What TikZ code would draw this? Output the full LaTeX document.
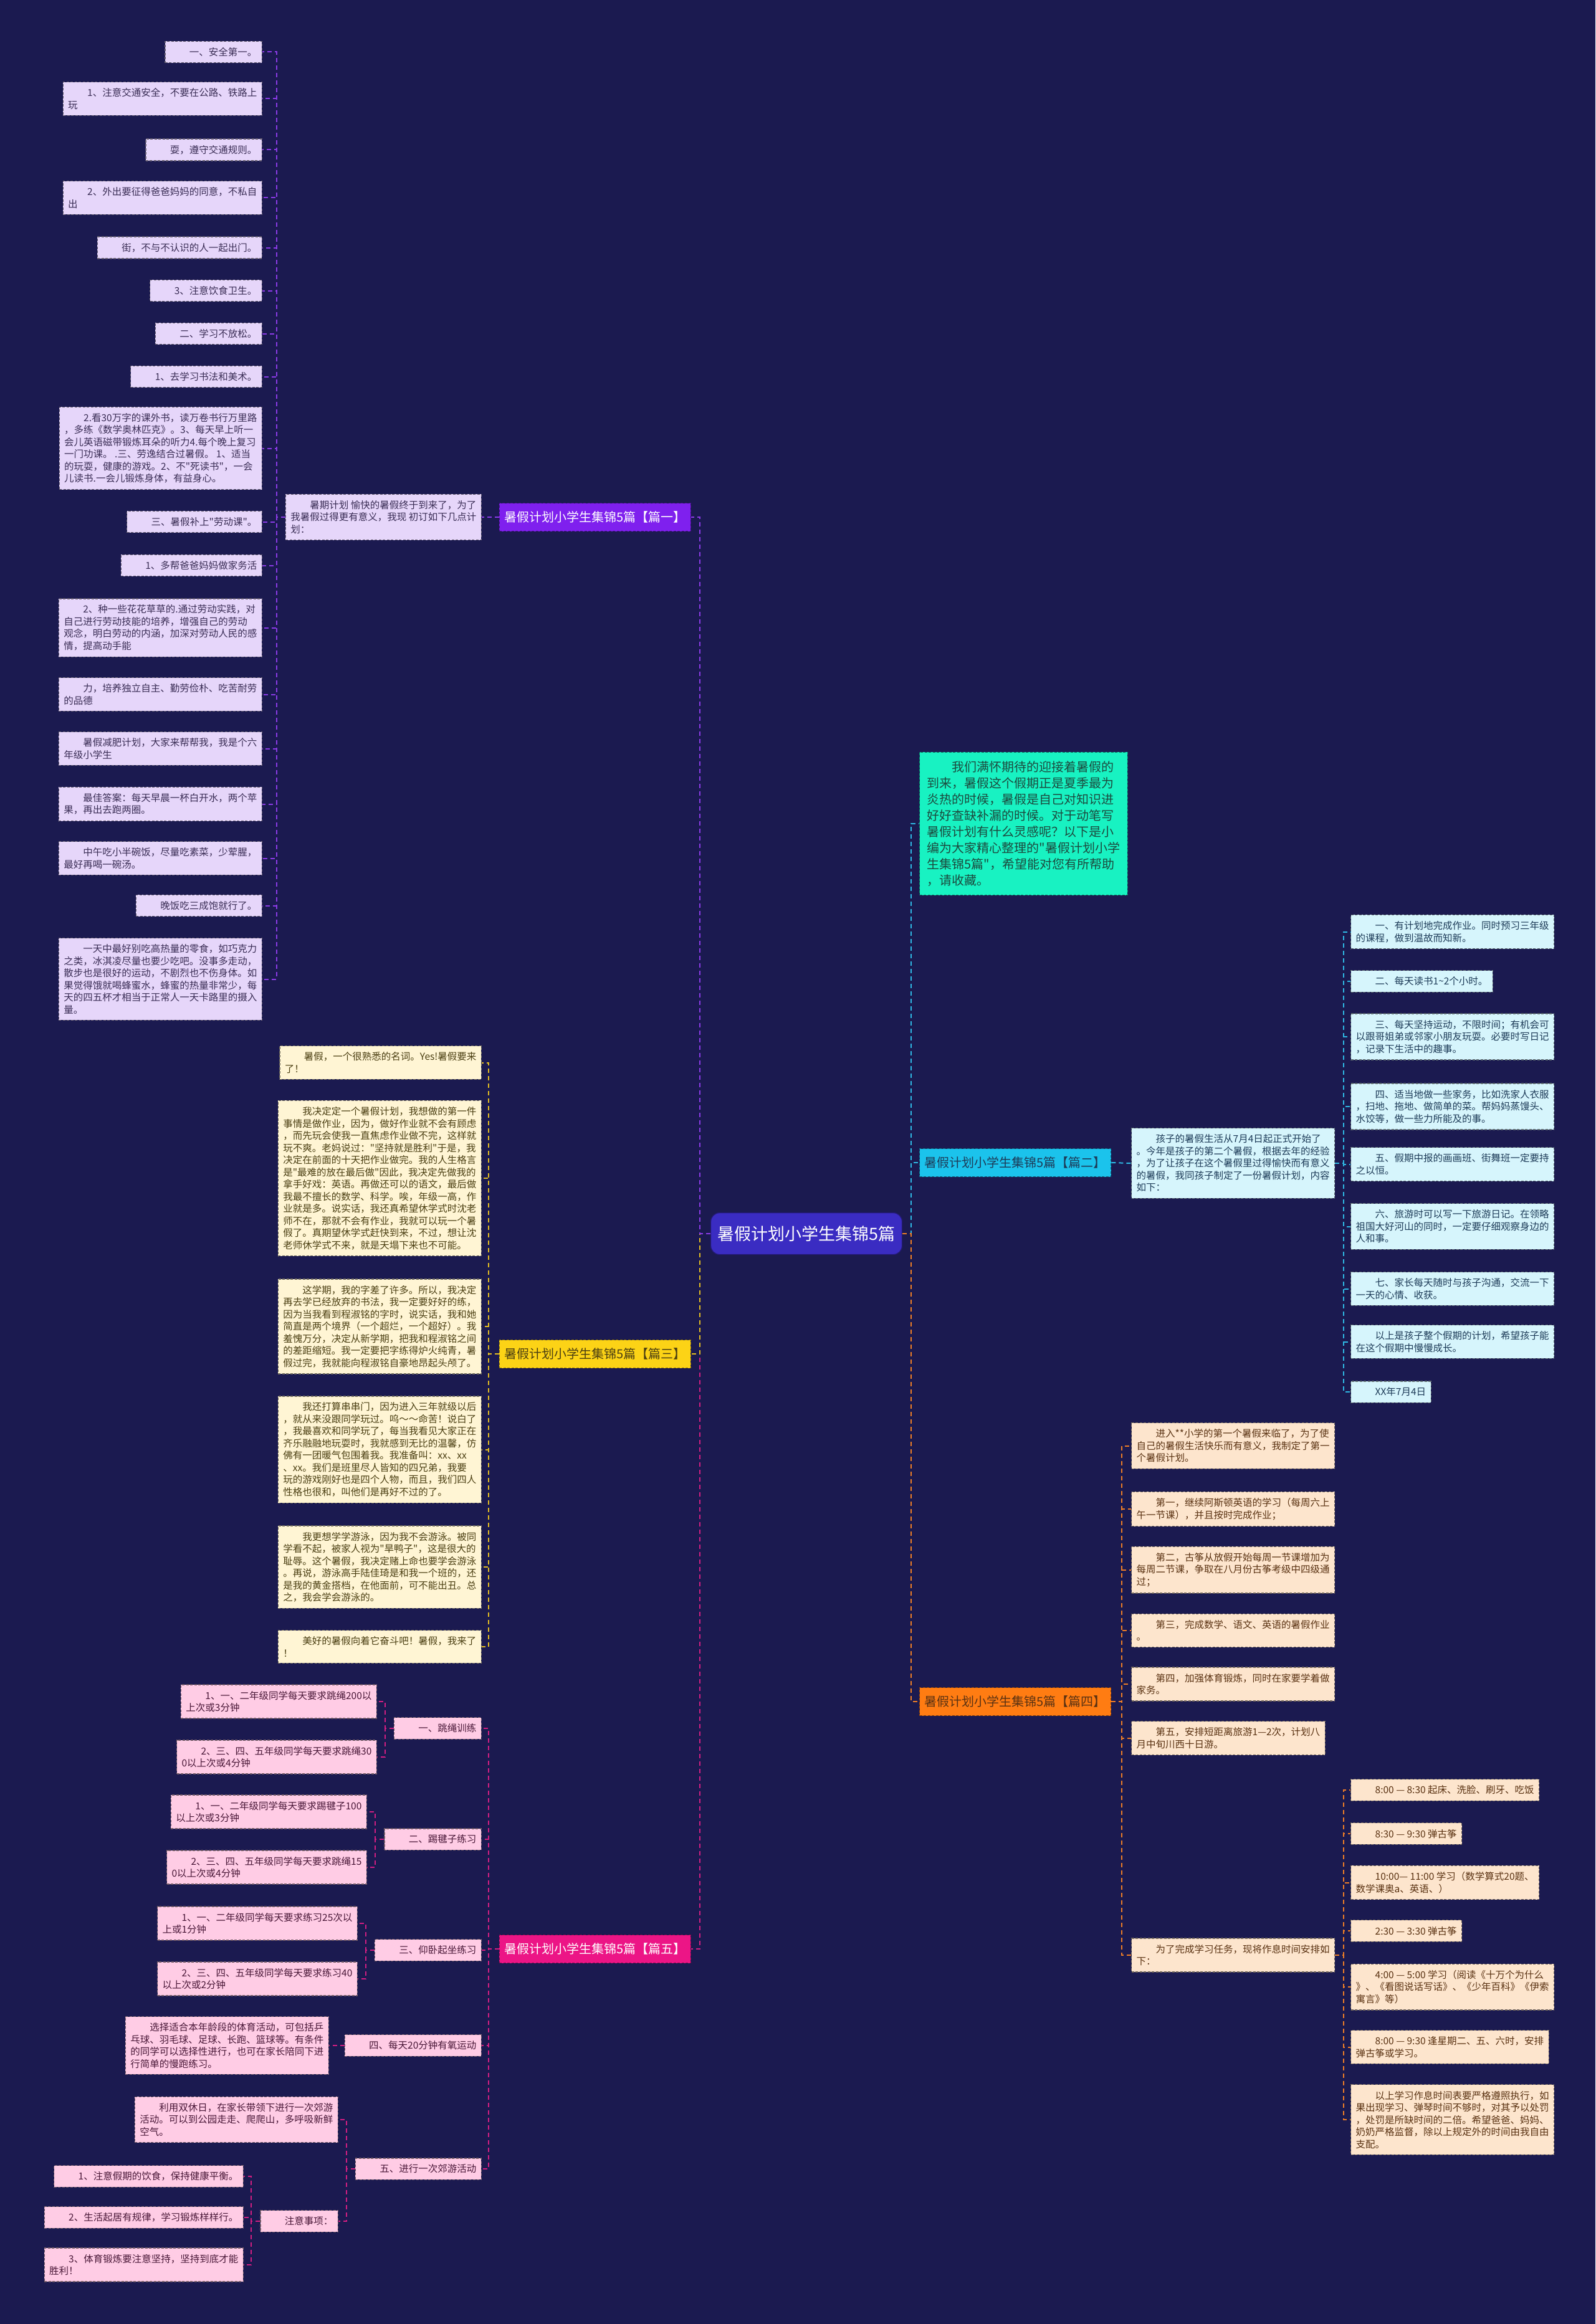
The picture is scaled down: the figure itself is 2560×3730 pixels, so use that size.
\documentclass[tikz,border=0pt]{standalone}
\usepackage{fontspec}
\setmainfont{Noto Sans CJK SC}[Ligatures=TeXOff]
\usetikzlibrary{positioning}
\definecolor{bgnavy}{HTML}{1B1A50}
\definecolor{hubblue}{HTML}{3A2CC2}
\definecolor{violetmain}{HTML}{7F20EE}
\definecolor{violetleaf}{HTML}{E6D6FA}
\definecolor{violetline}{HTML}{8B3BE6}
\definecolor{violetink}{HTML}{3A2D55}
\definecolor{cyanmain}{HTML}{1BC3EC}
\definecolor{cyanleaf}{HTML}{D6F5FC}
\definecolor{cyanline}{HTML}{2FB9E4}
\definecolor{cyanink}{HTML}{1D3B58}
\definecolor{aquaintro}{HTML}{18F2C2}
\definecolor{aquaink}{HTML}{1C4A3E}
\definecolor{yellowmain}{HTML}{FCD316}
\definecolor{yellowleaf}{HTML}{FFF5D4}
\definecolor{yellowline}{HTML}{E2BC22}
\definecolor{yellowink}{HTML}{4B3F12}
\definecolor{orangemain}{HTML}{FF7C12}
\definecolor{orangeleaf}{HTML}{FDE5CD}
\definecolor{orangeline}{HTML}{EE7E26}
\definecolor{orangeink}{HTML}{5A3212}
\definecolor{pinkmain}{HTML}{EC1586}
\definecolor{pinkleaf}{HTML}{FFCCE5}
\definecolor{pinkline}{HTML}{D21E82}
\definecolor{pinkink}{HTML}{4A1838}
\newcommand{\firstind}{\hspace*{2em}}
\tikzset{
  leaf/.style={rectangle,fill=#1,draw=#1!45!black,dash pattern=on 4pt off 2.5pt,
    line width=1.3pt,align=left,inner xsep=8pt,inner ysep=10pt,
    font=\fontsize{15.5}{19.5}\selectfont},
  branch/.style={rectangle,fill=#1,draw=#1!55!black,dash pattern=on 4pt off 2.5pt,
    line width=1.3pt,inner xsep=8pt,minimum height=45pt,
    font=\fontsize{20}{24}\selectfont},
  hub/.style={rectangle,rounded corners=14pt,fill=hubblue,draw=hubblue!60!black,
    line width=1.3pt,text=white,inner xsep=11pt,minimum height=67pt,
    font=\fontsize{27}{32}\selectfont},
  intro/.style={rectangle,fill=aquaintro,draw=aquaintro!50!black,dash pattern=on 4pt off 2.5pt,
    line width=1.3pt,text=aquaink,align=left,inner xsep=12pt,inner ysep=14pt,
    font=\fontsize{20}{26}\selectfont},
  link/.style={draw=#1,line width=2pt,dash pattern=on 7pt off 5pt},
  p1leaf/.style={leaf=violetleaf,text=violetink,anchor=east},
  p2leaf/.style={leaf=cyanleaf,text=cyanink,anchor=west},
  p3leaf/.style={leaf=yellowleaf,text=yellowink,anchor=east},
  p4leaf/.style={leaf=orangeleaf,text=orangeink,anchor=west},
  p5leaf/.style={leaf=pinkleaf,text=pinkink,anchor=east},
}
\begin{document}
\begin{tikzpicture}[x=1pt,y=-1pt]
  \fill[bgnavy] (0,0) rectangle (2560,3730);
  \useasboundingbox (0,0) rectangle (2560,3730);

  % centre
  \node[hub] (hub) at (1294,1980) {暑假计划小学生集锦5篇};

  % branches
  \node[branch=violetmain,text=white,anchor=east] (p1) at (1109,830) {暑假计划小学生集锦5篇【篇一】};
  \node[branch=cyanmain,text=cyanink,anchor=west] (p2) at (1475,1866) {暑假计划小学生集锦5篇【篇二】};
  \node[branch=yellowmain,text=yellowink,anchor=east] (p3) at (1109,2173) {暑假计划小学生集锦5篇【篇三】};
  \node[branch=orangemain,text=orangeink,anchor=west] (p4) at (1475,2731) {暑假计划小学生集锦5篇【篇四】};
  \node[branch=pinkmain,text=white,anchor=east] (p5) at (1109,3128) {暑假计划小学生集锦5篇【篇五】};

  \node[intro,anchor=west] (intro) at (1475,1322) {\firstind 我们满怀期待的迎接着暑假的\\到来，暑假这个假期正是夏季最为\\炎热的时候，暑假是自己对知识进\\好好查缺补漏的时候。对于动笔写\\暑假计划有什么灵感呢？以下是小\\编为大家精心整理的"暑假计划小学\\生集锦5篇"，希望能对您有所帮助\\，请收藏。};

  % 篇一
  \node[p1leaf] (p1i) at (773,830) {\firstind 暑期计划 愉快的暑假终于到来了，为了\\我暑假过得更有意义，我现 初订如下几点计\\划：};
  \node[p1leaf] (p1l1) at (421,83.5) {\firstind 一、安全第一。};
  \node[p1leaf] (p1l2) at (421,158.5) {\firstind 1、注意交通安全，不要在公路、铁路上\\玩};
  \node[p1leaf] (p1l3) at (421,240.5) {\firstind 耍，遵守交通规则。};
  \node[p1leaf] (p1l4) at (421,317.5) {\firstind 2、外出要征得爸爸妈妈的同意，不私自\\出};
  \node[p1leaf] (p1l5) at (421,397.5) {\firstind 街，不与不认识的人一起出门。};
  \node[p1leaf] (p1l6) at (421,466.5) {\firstind 3、注意饮食卫生。};
  \node[p1leaf] (p1l7) at (421,535.5) {\firstind 二、学习不放松。};
  \node[p1leaf] (p1l8) at (421,604.5) {\firstind 1、去学习书法和美术。};
  \node[p1leaf] (p1l9) at (421,719.5) {\firstind 2.看30万字的课外书，读万卷书行万里路\\，多练《数学奥林匹克》。3、每天早上听一\\会儿英语磁带锻炼耳朵的听力4.每个晚上复习\\一门功课。 .三、劳逸结合过暑假。 1、适当\\的玩耍，健康的游戏。2、不"死读书"，一会\\儿读书.一会儿锻炼身体，有益身心。};
  \node[p1leaf] (p1l10) at (421,837.5) {\firstind 三、暑假补上"劳动课"。};
  \node[p1leaf] (p1l11) at (421,907.5) {\firstind 1、多帮爸爸妈妈做家务活};
  \node[p1leaf] (p1l12) at (421,1007.5) {\firstind 2、种一些花花草草的.通过劳动实践，对\\自己进行劳动技能的培养，增强自己的劳动\\观念，明白劳动的内涵，加深对劳动人民的感\\情，提高动手能};
  \node[p1leaf] (p1l13) at (421,1114.5) {\firstind 力，培养独立自主、勤劳俭朴、吃苦耐劳\\的品德};
  \node[p1leaf] (p1l14) at (421,1201.5) {\firstind 暑假减肥计划，大家来帮帮我，我是个六\\年级小学生};
  \node[p1leaf] (p1l15) at (421,1290.5) {\firstind 最佳答案：每天早晨一杯白开水，两个苹\\果，再出去跑两圈。};
  \node[p1leaf] (p1l16) at (421,1377.5) {\firstind 中午吃小半碗饭，尽量吃素菜，少荤腥，\\最好再喝一碗汤。};
  \node[p1leaf] (p1l17) at (421,1453.5) {\firstind 晚饭吃三成饱就行了。};
  \node[p1leaf] (p1l18) at (421,1571.5) {\firstind 一天中最好别吃高热量的零食，如巧克力\\之类，冰淇凌尽量也要少吃吧。没事多走动，\\散步也是很好的运动，不剧烈也不伤身体。如\\果觉得饿就喝蜂蜜水，蜂蜜的热量非常少，每\\天的四五杯才相当于正常人一天卡路里的摄入\\量。};

  % 篇二
  \node[p2leaf] (p2i) at (1815,1867) {\firstind 孩子的暑假生活从7月4日起正式开始了\\。今年是孩子的第二个暑假，根据去年的经验\\，为了让孩子在这个暑假里过得愉快而有意义\\的暑假，我同孩子制定了一份暑假计划，内容\\如下：};
  \node[p2leaf] (p2l1) at (2167,1495.5) {\firstind 一、有计划地完成作业。同时预习三年级\\的课程，做到温故而知新。};
  \node[p2leaf] (p2l2) at (2167,1575) {\firstind 二、每天读书1\textasciitilde 2个小时。};
  \node[p2leaf] (p2l3) at (2167,1664) {\firstind 三、每天坚持运动，不限时间；有机会可\\以跟哥姐弟或邻家小朋友玩耍。必要时写日记\\，记录下生活中的趣事。};
  \node[p2leaf] (p2l4) at (2167,1776) {\firstind 四、适当地做一些家务，比如洗家人衣服\\，扫地、拖地、做简单的菜。帮妈妈蒸馒头、\\水饺等，做一些力所能及的事。};
  \node[p2leaf] (p2l5) at (2167,1868.5) {\firstind 五、假期中报的画画班、街舞班一定要持\\之以恒。};
  \node[p2leaf] (p2l6) at (2167,1968.5) {\firstind 六、旅游时可以写一下旅游日记。在领略\\祖国大好河山的同时，一定要仔细观察身边的\\人和事。};
  \node[p2leaf] (p2l7) at (2167,2068.5) {\firstind 七、家长每天随时与孩子沟通，交流一下\\一天的心情、收获。};
  \node[p2leaf] (p2l8) at (2167,2153.5) {\firstind 以上是孩子整个假期的计划，希望孩子能\\在这个假期中慢慢成长。};
  \node[p2leaf] (p2l9) at (2167,2234) {\firstind XX年7月4日};

  % 篇三
  \node[p3leaf] (p3l1) at (773,1705.5) {\firstind 暑假，一个很熟悉的名词。Yes!暑假要来\\了！};
  \node[p3leaf] (p3l2) at (773,1891) {\firstind 我决定定一个暑假计划，我想做的第一件\\事情是做作业，因为，做好作业就不会有顾虑\\，而先玩会使我一直焦虑作业做不完，这样就\\玩不爽。老妈说过："坚持就是胜利"于是，我\\决定在前面的十天把作业做完。我的人生格言\\是"最难的放在最后做"因此，我决定先做我的\\拿手好戏：英语。再做还可以的语文，最后做\\我最不擅长的数学、科学。唉，年级一高，作\\业就是多。说实话，我还真希望休学式时沈老\\师不在，那就不会有作业，我就可以玩一个暑\\假了。真期望休学式赶快到来，不过，想让沈\\老师休学式不来，就是天塌下来也不可能。};
  \node[p3leaf] (p3l3) at (773,2129) {\firstind 这学期，我的字差了许多。所以，我决定\\再去学已经放弃的书法，我一定要好好的练，\\因为当我看到程淑铭的字时，说实话，我和她\\简直是两个境界（一个超烂，一个超好）。我\\羞愧万分，决定从新学期，把我和程淑铭之间\\的差距缩短。我一定要把字练得炉火纯青，暑\\假过完，我就能向程淑铭自豪地昂起头颅了。};
  \node[p3leaf] (p3l4) at (773,2326.5) {\firstind 我还打算串串门，因为进入三年就级以后\\，就从来没跟同学玩过。呜～～命苦！说白了\\，我最喜欢和同学玩了，每当我看见大家正在\\齐乐融融地玩耍时，我就感到无比的温馨，仿\\佛有一团暖气包围着我。我准备叫：xx、xx\\、xx。我们是班里尽人皆知的四兄弟，我要\\玩的游戏刚好也是四个人物，而且，我们四人\\性格也很和，叫他们是再好不过的了。};
  \node[p3leaf] (p3l5) at (773,2515) {\firstind 我更想学学游泳，因为我不会游泳。被同\\学看不起，被家人视为"旱鸭子"，这是很大的\\耻辱。这个暑假，我决定赌上命也要学会游泳\\。再说，游泳高手陆佳琦是和我一个班的，还\\是我的黄金搭档，在他面前，可不能出丑。总\\之，我会学会游泳的。};
  \node[p3leaf] (p3l6) at (773,2643) {\firstind 美好的暑假向着它奋斗吧！暑假，我来了\\！};

  % 篇四
  \node[p4leaf] (p4l1) at (1815,2320.5) {\firstind 进入**小学的第一个暑假来临了，为了使\\自己的暑假生活快乐而有意义，我制定了第一\\个暑假计划。};
  \node[p4leaf] (p4l2) at (1815,2422) {\firstind 第一，继续阿斯顿英语的学习（每周六上\\午一节课），并且按时完成作业；};
  \node[p4leaf] (p4l3) at (1815,2519.5) {\firstind 第二，古筝从放假开始每周一节课增加为\\每周二节课，争取在八月份古筝考级中四级通\\过；};
  \node[p4leaf] (p4l4) at (1815,2617) {\firstind 第三，完成数学、语文、英语的暑假作业\\。};
  \node[p4leaf] (p4l5) at (1815,2703) {\firstind 第四，加强体育锻炼，同时在家要学着做\\家务。};
  \node[p4leaf] (p4l6) at (1815,2789.5) {\firstind 第五，安排短距离旅游1—2次，计划八\\月中旬川西十日游。};
  \node[p4leaf] (p4l7) at (1815,3138) {\firstind 为了完成学习任务，现将作息时间安排如\\下：};
  \node[p4leaf] (t1) at (2167,2873) {\firstind 8:00 — 8:30 起床、洗脸、刷牙、吃饭};
  \node[p4leaf] (t2) at (2167,2943) {\firstind 8:30 — 9:30 弹古筝};
  \node[p4leaf] (t3) at (2167,3021.5) {\firstind 10:00— 11:00 学习（数学算式20题、\\数学课奥a、英语、）};
  \node[p4leaf] (t4) at (2167,3099) {\firstind 2:30 — 3:30 弹古筝};
  \node[p4leaf] (t5) at (2167,3189) {\firstind 4:00 — 5:00 学习（阅读《十万个为什么\\》、《看图说话写话》、《少年百科》《伊索\\寓言》等）};
  \node[p4leaf] (t6) at (2167,3285.5) {\firstind 8:00 — 9:30 逢星期二、五、六时，安排\\弹古筝或学习。};
  \node[p4leaf] (t7) at (2167,3402) {\firstind 以上学习作息时间表要严格遵照执行，如\\果出现学习、弹琴时间不够时，对其予以处罚\\，处罚是所缺时间的二倍。希望爸爸、妈妈、\\奶奶严格监督，除以上规定外的时间由我自由\\支配。};

  % 篇五
  \node[p5leaf] (p5a) at (773,2774) {\firstind 一、跳绳训练};
  \node[p5leaf] (p5b) at (773,2952) {\firstind 二、踢毽子练习};
  \node[p5leaf] (p5c) at (773,3130) {\firstind 三、仰卧起坐练习};
  \node[p5leaf] (p5d) at (773,3283) {\firstind 四、每天20分钟有氧运动};
  \node[p5leaf] (p5e) at (773,3481) {\firstind 五、进行一次郊游活动};
  \node[p5leaf] (p5a1) at (605,2731) {\firstind 1、一、二年级同学每天要求跳绳200以\\上次或3分钟};
  \node[p5leaf] (p5a2) at (605,2820) {\firstind 2、三、四、五年级同学每天要求跳绳30\\0以上次或4分钟};
  \node[p5leaf] (p5b1) at (589,2908) {\firstind 1、一、二年级同学每天要求踢毽子100\\以上次或3分钟};
  \node[p5leaf] (p5b2) at (589,2997) {\firstind 2、三、四、五年级同学每天要求跳绳15\\0以上次或4分钟};
  \node[p5leaf] (p5c1) at (574,3087) {\firstind 1、一、二年级同学每天要求练习25次以\\上或1分钟};
  \node[p5leaf] (p5c2) at (574,3176) {\firstind 2、三、四、五年级同学每天要求练习40\\以上次或2分钟};
  \node[p5leaf] (p5d1) at (528,3283) {\firstind 选择适合本年龄段的体育活动，可包括乒\\乓球、羽毛球、足球、长跑、篮球等。有条件\\的同学可以选择性进行，也可在家长陪同下进\\行简单的慢跑练习。};
  \node[p5leaf] (p5e1) at (543,3402) {\firstind 利用双休日，在家长带领下进行一次郊游\\活动。可以到公园走走、爬爬山，多呼吸新鲜\\空气。};
  \node[p5leaf] (p5e2) at (543,3565) {\firstind 注意事项：};
  \node[p5leaf] (p5n1) at (391,3493) {\firstind 1、注意假期的饮食，保持健康平衡。};
  \node[p5leaf] (p5n2) at (391,3559) {\firstind 2、生活起居有规律，学习锻炼样样行。};
  \node[p5leaf] (p5n3) at (391,3635) {\firstind 3、体育锻炼要注意坚持，坚持到底才能\\胜利！};

  % connectors
  \draw[link=pinkline] (hub.west) -- ++(-17,0) |- (p5.east);
  \draw[link=yellowline] (hub.west) -- ++(-17,0) |- (p3.east);
  \draw[link=violetline] (hub.west) -- ++(-17,0) |- (p1.east);
  \draw[link=cyanline] (hub.east) -- ++(14,0) |- (intro.west);
  \draw[link=cyanline] (hub.east) -- ++(14,0) |- (p2.west);
  \draw[link=orangeline] (hub.east) -- ++(14,0) |- (p4.west);

  \draw[link=violetline] (p1.west) -- (p1i.east);
  \foreach \k in {1,...,18}
    \draw[link=violetline] (p1i.west) -- ++(-14,0) |- (p1l\k.east);

  \draw[link=cyanline] (p2.east) -- (p2i.west);
  \foreach \k in {1,...,9}
    \draw[link=cyanline] (p2i.east) -- ++(14,0) |- (p2l\k.west);

  \foreach \k in {1,...,6}
    \draw[link=yellowline] (p3.west) -- ++(-17,0) |- (p3l\k.east);

  \foreach \k in {1,...,7}
    \draw[link=orangeline] (p4.east) -- ++(17,0) |- (p4l\k.west);
  \foreach \k in {1,...,7}
    \draw[link=orangeline] (p4l7.east) -- ++(14,0) |- (t\k.west);

  \foreach \k in {a,b,c,d,e}
    \draw[link=pinkline] (p5.west) -- ++(-17,0) |- (p5\k.east);
  \foreach \k in {a,b,c} {
    \draw[link=pinkline] (p5\k.west) -- ++(-14,0) |- (p5\k1.east);
    \draw[link=pinkline] (p5\k.west) -- ++(-14,0) |- (p5\k2.east);
  }
  \draw[link=pinkline] (p5d.west) -- (p5d1.east);
  \draw[link=pinkline] (p5e.west) -- ++(-14,0) |- (p5e1.east);
  \draw[link=pinkline] (p5e.west) -- ++(-14,0) |- (p5e2.east);
  \foreach \k in {1,2,3}
    \draw[link=pinkline] (p5e2.west) -- ++(-14,0) |- (p5n\k.east);
\end{tikzpicture}
\end{document}
